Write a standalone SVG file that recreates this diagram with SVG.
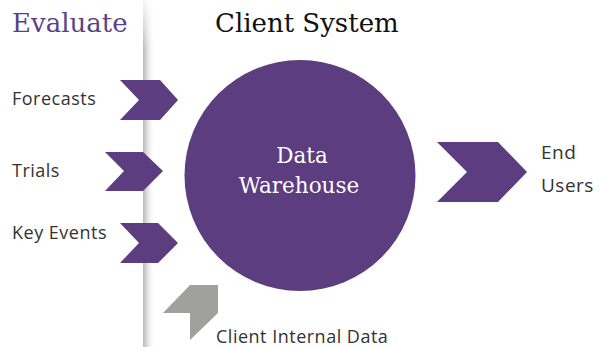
<svg xmlns="http://www.w3.org/2000/svg" width="606" height="347" viewBox="0 0 606 347">
  <defs>
    <linearGradient id="shadow" x1="0" y1="0" x2="1" y2="0">
      <stop offset="0" stop-color="#b8b8b8"/>
      <stop offset="0.3" stop-color="#d8d8d8"/>
      <stop offset="1" stop-color="#ffffff" stop-opacity="0"/>
    </linearGradient>
    <linearGradient id="fadeTop" x1="0" y1="0" x2="0" y2="1">
      <stop offset="0" stop-color="#ffffff" stop-opacity="0.9"/>
      <stop offset="1" stop-color="#ffffff" stop-opacity="0"/>
    </linearGradient>
  </defs>
  <style>
    .title { font-family: "DejaVu Serif", serif; font-size: 26px; }
    .label { font-family: "Open Sans", "Liberation Sans", sans-serif; font-size: 18px; letter-spacing: 0.5px; fill: #333333; }
    .chev { fill: #5b3d80; }
    .hub { fill: #5b3d80; }
    .hubtext { font-family: "DejaVu Serif", serif; font-size: 21.5px; fill: #ffffff; text-anchor: middle; }
  </style>
  <rect width="606" height="347" fill="#ffffff"/>
  <g id="divider">
    <rect x="143" y="0" width="12" height="347" fill="url(#shadow)"/>
    <rect x="140" y="0" width="18" height="50" fill="url(#fadeTop)"/>
  </g>
  <g id="evaluate">
    <text class="title" x="12" y="32" fill="#5b3f8a">Evaluate</text>
  </g>
  <g id="client-system">
    <text class="title" x="215" y="32" fill="#111111">Client System</text>
  </g>
  <g id="forecasts">
    <text class="label" x="12" y="105">Forecasts</text>
  </g>
  <g id="trials">
    <text class="label" x="12" y="177">Trials</text>
  </g>
  <g id="key-events">
    <text class="label" x="12" y="239">Key Events</text>
  </g>
  <g id="data-warehouse">
    <circle class="hub" cx="300" cy="175.5" r="115.5"/>
    <text class="hubtext" x="302" y="163">Data</text>
    <text class="hubtext" x="299" y="193">Warehouse</text>
  </g>
  <g id="end-users">
    <text class="label" x="541" y="159" style="font-size:19px">End</text>
    <text class="label" x="541" y="192" style="font-size:19px">Users</text>
  </g>
  <g id="client-internal-data">
    <text class="label" x="216" y="343">Client Internal Data</text>
  </g>
  <g id="connectors">
    <polygon class="chev" points="120,80 160,80 178,100 160,120 120,120 139,100"/>
    <polygon class="chev" points="105,152 143,152 163,171 143,191 105,191 124,171"/>
    <polygon class="chev" points="120,223 158,223 178,243 158,263 120,263 139,243"/>
    <polygon class="chev" points="437,142 498,142 527,172 498,202 437,202 467,172"/>
    <polygon fill="#a0a09e" points="190,285 218,285 218,313 190,340 190,313 163,313"/>
  </g>
</svg>
